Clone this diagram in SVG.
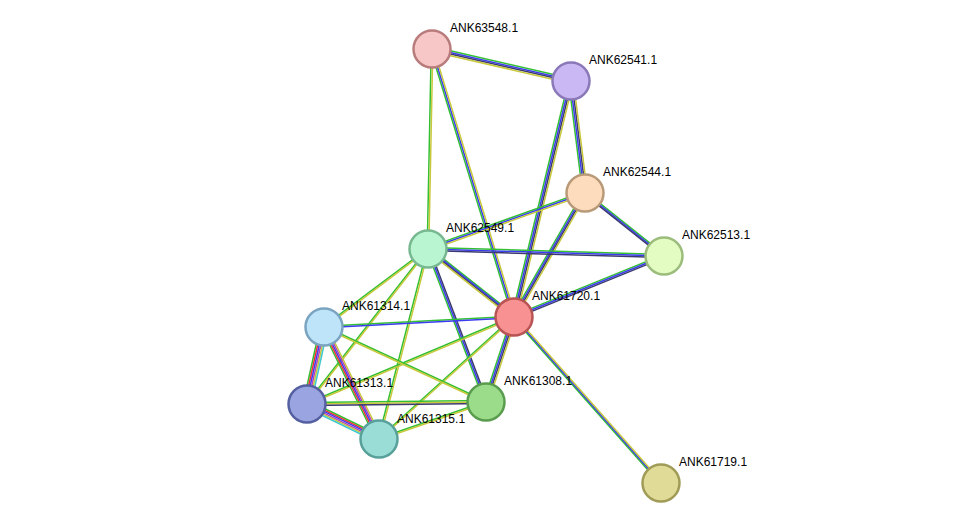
<svg xmlns="http://www.w3.org/2000/svg" xmlns:xlink="http://www.w3.org/1999/xlink" width="975" height="529" viewBox="0 0 975 529">
<style>
use{stroke-width:1.5;fill:none}
.g{stroke:#33c033}.b{stroke:#3b3bf0}.n{stroke:#3a3a70}.y{stroke:#c8c83c}.r{stroke:#f03030}.p{stroke:#b040c0}.c{stroke:#40c8d0}
circle{stroke-width:2.5}
text{font-family:"Liberation Sans",Arial,sans-serif;font-size:12px;fill:#000}
</style>
<defs>
<line id="e1" x1="432" y1="49" x2="571" y2="81"/>
<line id="e2" x1="432" y1="49" x2="428" y2="249"/>
<line id="e3" x1="432" y1="49" x2="514" y2="317"/>
<line id="e4" x1="571" y1="81" x2="585" y2="193"/>
<line id="e5" x1="571" y1="81" x2="514" y2="317"/>
<line id="e6" x1="585" y1="193" x2="428" y2="249"/>
<line id="e7" x1="585" y1="193" x2="664" y2="256"/>
<line id="e8" x1="585" y1="193" x2="514" y2="317"/>
<line id="e9" x1="428" y1="249" x2="664" y2="256"/>
<line id="e10" x1="428" y1="249" x2="514" y2="317"/>
<line id="e11" x1="664" y1="256" x2="514" y2="317"/>
<line id="e12" x1="428" y1="249" x2="324" y2="327"/>
<line id="e13" x1="428" y1="249" x2="307" y2="404"/>
<line id="e14" x1="428" y1="249" x2="379" y2="439"/>
<line id="e15" x1="428" y1="249" x2="486" y2="402"/>
<line id="e16" x1="514" y1="317" x2="324" y2="327"/>
<line id="e17" x1="514" y1="317" x2="307" y2="404"/>
<line id="e18" x1="514" y1="317" x2="379" y2="439"/>
<line id="e19" x1="514" y1="317" x2="486" y2="402"/>
<line id="e20" x1="514" y1="317" x2="661" y2="483"/>
<line id="e21" x1="324" y1="327" x2="307" y2="404"/>
<line id="e22" x1="324" y1="327" x2="379" y2="439"/>
<line id="e23" x1="324" y1="327" x2="486" y2="402"/>
<line id="e24" x1="307" y1="404" x2="379" y2="439"/>
<line id="e25" x1="307" y1="404" x2="486" y2="402"/>
<line id="e26" x1="379" y1="439" x2="486" y2="402"/>
</defs>
<g id="edges">
<use href="#e1" class="g" transform="translate(0,-2.4)"/><use href="#e1" class="b" transform="translate(0,-0.8)"/><use href="#e1" class="n" transform="translate(0,0.8)"/><use href="#e1" class="y" transform="translate(0,2.4)"/>
<use href="#e2" class="g" transform="translate(-0.8,0)"/><use href="#e2" class="y" transform="translate(0.8,0)"/>
<use href="#e3" class="g" transform="translate(-1.6,0)"/><use href="#e3" class="b" transform="translate(0,0)"/><use href="#e3" class="y" transform="translate(1.6,0)"/>
<use href="#e4" class="g" transform="translate(-2.4,0)"/><use href="#e4" class="b" transform="translate(-0.8,0)"/><use href="#e4" class="n" transform="translate(0.8,0)"/><use href="#e4" class="y" transform="translate(2.4,0)"/>
<use href="#e5" class="g" transform="translate(-2.4,0)"/><use href="#e5" class="b" transform="translate(-0.8,0)"/><use href="#e5" class="n" transform="translate(0.8,0)"/><use href="#e5" class="y" transform="translate(2.4,0)"/>
<use href="#e6" class="g" transform="translate(0,-1.6)"/><use href="#e6" class="b" transform="translate(0,0)"/><use href="#e6" class="y" transform="translate(0,1.6)"/>
<use href="#e7" class="g" transform="translate(0,-1.6)"/><use href="#e7" class="b" transform="translate(0,0)"/><use href="#e7" class="n" transform="translate(0,1.6)"/>
<use href="#e8" class="g" transform="translate(-2.4,0)"/><use href="#e8" class="b" transform="translate(-0.8,0)"/><use href="#e8" class="n" transform="translate(0.8,0)"/><use href="#e8" class="y" transform="translate(2.4,0)"/>
<use href="#e9" class="g" transform="translate(0,-1.6)"/><use href="#e9" class="b" transform="translate(0,0)"/><use href="#e9" class="n" transform="translate(0,1.6)"/>
<use href="#e10" class="g" transform="translate(0,-2.4)"/><use href="#e10" class="b" transform="translate(0,-0.8)"/><use href="#e10" class="n" transform="translate(0,0.8)"/><use href="#e10" class="y" transform="translate(0,2.4)"/>
<use href="#e11" class="g" transform="translate(0,-1.6)"/><use href="#e11" class="b" transform="translate(0,0)"/><use href="#e11" class="n" transform="translate(0,1.6)"/>
<use href="#e12" class="g" transform="translate(0,-0.8)"/><use href="#e12" class="y" transform="translate(0,0.8)"/>
<use href="#e13" class="g" transform="translate(-0.8,0)"/><use href="#e13" class="y" transform="translate(0.8,0)"/>
<use href="#e14" class="g" transform="translate(-0.8,0)"/><use href="#e14" class="y" transform="translate(0.8,0)"/>
<use href="#e15" class="g" transform="translate(-1.6,0)"/><use href="#e15" class="b" transform="translate(0,0)"/><use href="#e15" class="n" transform="translate(1.6,0)"/>
<use href="#e16" class="g" transform="translate(0,-0.8)"/><use href="#e16" class="b" transform="translate(0,0.8)"/>
<use href="#e17" class="g" transform="translate(0,-0.8)"/><use href="#e17" class="y" transform="translate(0,0.8)"/>
<use href="#e18" class="g" transform="translate(0,-0.8)"/><use href="#e18" class="y" transform="translate(0,0.8)"/>
<use href="#e19" class="g" transform="translate(-2.4,0)"/><use href="#e19" class="b" transform="translate(-0.8,0)"/><use href="#e19" class="n" transform="translate(0.8,0)"/><use href="#e19" class="y" transform="translate(2.4,0)"/>
<use href="#e20" class="g" transform="translate(-1.6,0)"/><use href="#e20" class="b" transform="translate(0,0)"/><use href="#e20" class="y" transform="translate(1.6,0)"/>
<use href="#e21" class="g" transform="translate(-4,0)"/><use href="#e21" class="r" transform="translate(-2.4,0)"/><use href="#e21" class="b" transform="translate(-0.8,0)"/><use href="#e21" class="p" transform="translate(0.8,0)"/><use href="#e21" class="y" transform="translate(2.4,0)"/><use href="#e21" class="c" transform="translate(4,0)"/>
<use href="#e22" class="g" transform="translate(-3.2,0)"/><use href="#e22" class="r" transform="translate(-1.6,0)"/><use href="#e22" class="b" transform="translate(0,0)"/><use href="#e22" class="p" transform="translate(1.6,0)"/><use href="#e22" class="y" transform="translate(3.2,0)"/>
<use href="#e23" class="g" transform="translate(0,-0.8)"/><use href="#e23" class="y" transform="translate(0,0.8)"/>
<use href="#e24" class="g" transform="translate(0,-4)"/><use href="#e24" class="r" transform="translate(0,-2.4)"/><use href="#e24" class="b" transform="translate(0,-0.8)"/><use href="#e24" class="p" transform="translate(0,0.8)"/><use href="#e24" class="y" transform="translate(0,2.4)"/><use href="#e24" class="c" transform="translate(0,4)"/>
<use href="#e25" class="g" transform="translate(0,-1.6)"/><use href="#e25" class="y" transform="translate(0,0)"/><use href="#e25" class="n" transform="translate(0,1.6)"/>
<use href="#e26" class="g" transform="translate(0,-0.8)"/><use href="#e26" class="y" transform="translate(0,0.8)"/>
</g>
<g id="n63548"><circle cx="432" cy="49" r="18.5" fill="#f7c6c6" stroke="#b87c7c"/><text x="450" y="32">ANK63548.1</text></g>
<g id="n62541"><circle cx="571" cy="81" r="18.5" fill="#cab8f4" stroke="#8a78b8"/><text x="589" y="64">ANK62541.1</text></g>
<g id="n62544"><circle cx="585" cy="193" r="18.5" fill="#fddcbe" stroke="#b89a78"/><text x="603" y="176">ANK62544.1</text></g>
<g id="n62513"><circle cx="664" cy="256" r="18.5" fill="#e2fcc2" stroke="#9cbc7c"/><text x="682" y="239">ANK62513.1</text></g>
<g id="n62549"><circle cx="428" cy="249" r="18.5" fill="#baf5d2" stroke="#78b890"/><text x="446" y="232">ANK62549.1</text></g>
<g id="n61720"><circle cx="514" cy="317" r="18.5" fill="#f89292" stroke="#b85454"/><text x="532" y="300">ANK61720.1</text></g>
<g id="n61314"><circle cx="324" cy="327" r="18.5" fill="#bee4fa" stroke="#7aa4c0"/><text x="342" y="310">ANK61314.1</text></g>
<g id="n61313"><circle cx="307" cy="404" r="18.5" fill="#9aa4e0" stroke="#5460a0"/><text x="325" y="387">ANK61313.1</text></g>
<g id="n61308"><circle cx="486" cy="402" r="18.5" fill="#9adc8a" stroke="#5a9c4e"/><text x="504" y="385">ANK61308.1</text></g>
<g id="n61315"><circle cx="379" cy="439" r="18.5" fill="#9addd6" stroke="#58a09a"/><text x="397" y="423">ANK61315.1</text></g>
<g id="n61719"><circle cx="661" cy="483" r="18.5" fill="#e0dc98" stroke="#a09c58"/><text x="679" y="466">ANK61719.1</text></g>
</svg>
